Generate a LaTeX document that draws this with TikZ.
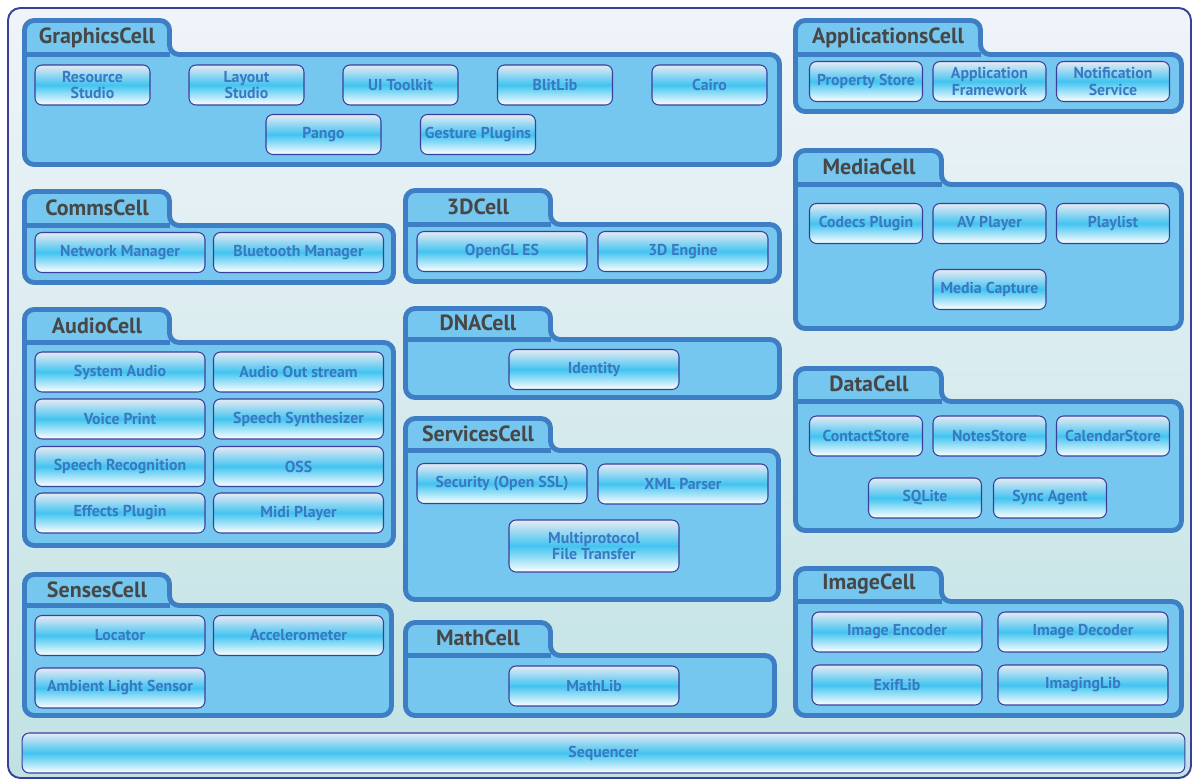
\documentclass[tikz,border=0pt]{standalone}
\usepackage{fontspec}
\setmainfont{PT Sans}
\usepackage{tikz}

\definecolor{frameline}{HTML}{3C3F9A}
\definecolor{frametop}{HTML}{EFF4F9}
\definecolor{framebot}{HTML}{C0E2E3}
\definecolor{cellline}{HTML}{3D7EC4}
\definecolor{cellfill}{HTML}{75C7EF}
\definecolor{compline}{HTML}{3B3F9C}
\definecolor{comptop}{HTML}{E6EAF4}
\definecolor{compmid}{HTML}{42C4F0}
\definecolor{comptext}{HTML}{3A78C2}
\definecolor{titletext}{HTML}{474747}

\begin{document}
\begin{tikzpicture}[
		x=0.02cm, y=-0.02cm,
		comp/.style={rectangle, rounded corners=4pt, draw=compline, line width=0.6pt,
			top color=comptop, bottom color=white, middle color=compmid,
			minimum height=0.8cm, inner sep=0pt, align=center, text=comptext,
			font=\bfseries\fontsize{9}{9.5}\selectfont},
		gbox/.style={comp, minimum width=2.3cm},
		sbox/.style={comp, minimum width=2.26cm},
		wbox/.style={comp, minimum width=3.4cm},
		cell/.style={draw=cellline, fill=cellfill, line width=2.8pt, rounded corners=5.5pt},
		tabline/.style={draw=cellline, line width=2.8pt},
		celltitle/.style={inner sep=0pt, text=titletext, font=\bfseries\fontsize{12.5}{13}\selectfont}
	]
  \useasboundingbox (0,0) rectangle (1194,781);
  \draw[draw=frameline, line width=1.1pt, rounded corners=7pt, top color=frametop, bottom color=framebot]
    (8,8) rectangle (1191,778);

  % cells
  \draw[cell] (24.5,110) |- (169.5,20.5) |- (779.5,54.5) |- (24.5,164.5) -- cycle;
  \draw[tabline] (24.5,54.5) -- (169.5,54.5);
  \draw[cell] (795.5,80) |- (980.5,20.5) |- (1181.5,54.5) |- (795.5,111.5) -- cycle;
  \draw[tabline] (795.5,54.5) -- (980.5,54.5);
  \draw[cell] (795.5,250) |- (941.5,150.5) |- (1181.5,184.5) |- (795.5,328.5) -- cycle;
  \draw[tabline] (795.5,184.5) -- (941.5,184.5);
  \draw[cell] (24.5,250) |- (169.5,191.5) |- (393.5,225.5) |- (24.5,282.5) -- cycle;
  \draw[tabline] (24.5,225.5) -- (169.5,225.5);
  \draw[cell] (24.5,440) |- (169.5,309.5) |- (393.5,342.5) |- (24.5,545.5) -- cycle;
  \draw[tabline] (24.5,342.5) -- (169.5,342.5);
  \draw[cell] (24.5,660) |- (169.5,574.5) |- (391.5,605.5) |- (24.5,715.5) -- cycle;
  \draw[tabline] (24.5,605.5) -- (169.5,605.5);
  \draw[cell] (405.5,250) |- (550.5,190.5) |- (779.5,224.5) |- (405.5,281.5) -- cycle;
  \draw[tabline] (405.5,224.5) -- (550.5,224.5);
  \draw[cell] (405.5,370) |- (550.5,308.5) |- (779.5,339.5) |- (405.5,397.5) -- cycle;
  \draw[tabline] (405.5,339.5) -- (550.5,339.5);
  \draw[cell] (405.5,520) |- (550.5,418.5) |- (778.5,450.5) |- (405.5,599.5) -- cycle;
  \draw[tabline] (405.5,450.5) -- (550.5,450.5);
  \draw[cell] (405.5,685) |- (550.5,622.5) |- (774.5,655.5) |- (405.5,715.5) -- cycle;
  \draw[tabline] (405.5,655.5) -- (550.5,655.5);
  \draw[cell] (795.5,465) |- (941.5,368.5) |- (1181.5,401.5) |- (795.5,530.5) -- cycle;
  \draw[tabline] (795.5,401.5) -- (941.5,401.5);
  \draw[cell] (795.5,660) |- (941.5,568.5) |- (1181.5,601.5) |- (795.5,715.5) -- cycle;
  \draw[tabline] (795.5,601.5) -- (941.5,601.5);

  % titles
  \node (graphics) [celltitle] at (97,38) {GraphicsCell};
  \node (apps) [celltitle] at (888,38) {ApplicationsCell};
  \node (media) [celltitle] at (869,167) {MediaCell};
  \node (comms) [celltitle] at (97,208) {CommsCell};
  \node (audio) [celltitle] at (97,326) {AudioCell};
  \node (senses) [celltitle] at (97,590) {SensesCell};
  \node (threed) [celltitle] at (478,207) {3DCell};
  \node (dna) [celltitle] at (478,323) {DNACell};
  \node (services) [celltitle] at (478,434) {ServicesCell};
  \node (math) [celltitle] at (478,638) {MathCell};
  \node (data) [celltitle] at (869,384) {DataCell};
  \node (image) [celltitle] at (869,584) {ImageCell};

  % GraphicsCell
  \node (res_studio) [gbox] at (92.5,85) {Resource\\Studio};
  \node (lay_studio) [gbox] at (246.5,85) {Layout\\Studio};
  \node (ui_toolkit) [gbox] at (400.5,85) {UI Toolkit};
  \node (blitlib) [gbox] at (555,85) {BlitLib};
  \node (cairo) [gbox] at (709.5,85) {Cairo};
  \node (pango) [gbox] at (323.5,134.5) {Pango};
  \node (gesture) [gbox] at (478,134.5) {Gesture Plugins};

  % ApplicationsCell
  \node (prop_store) [sbox] at (866,81.5) {Property Store};
  \node (app_fw) [sbox] at (989.5,81.5) {Application\\Framework};
  \node (notify) [sbox] at (1113,81.5) {Notification\\Service};

  % MediaCell
  \node (codecs) [sbox] at (866,223.5) {Codecs Plugin};
  \node (av_player) [sbox] at (989.5,223.5) {AV Player};
  \node (playlist) [sbox] at (1113,223.5) {Playlist};
  \node (capture) [sbox] at (989.5,289.5) {Media Capture};

  % CommsCell
  \node (net_mgr) [wbox] at (120,252.5) {Network Manager};
  \node (bt_mgr) [wbox] at (298.5,252.5) {Bluetooth Manager};

  % AudioCell
  \node (sys_audio) [wbox] at (120,372) {System Audio};
  \node (audio_out) [wbox] at (298.5,372) {Audio Out stream};
  \node (voice) [wbox] at (120,419) {Voice Print};
  \node (synth) [wbox] at (298.5,419) {Speech Synthesizer};
  \node (recog) [wbox] at (120,466.5) {Speech Recognition};
  \node (oss) [wbox] at (298.5,466.5) {OSS};
  \node (effects) [wbox] at (120,513) {Effects Plugin};
  \node (midi) [wbox] at (298.5,513) {Midi Player};

  % SensesCell
  \node (locator) [wbox] at (120,635.5) {Locator};
  \node (accel) [wbox] at (298.5,635.5) {Accelerometer};
  \node (ambient) [wbox] at (120,688) {Ambient Light Sensor};

  % 3DCell
  \node (opengl) [wbox] at (502,251.5) {OpenGL ES};
  \node (engine) [wbox] at (683,251.5) {3D Engine};

  % DNACell
  \node (identity) [wbox] at (594,369.5) {Identity};

  % ServicesCell
  \node (security) [wbox] at (502,483.5) {Security (Open SSL)};
  \node (xml) [wbox] at (683,484) {XML Parser};
  \node (mft) [wbox, minimum height=1.04cm] at (594,546) {Multiprotocol\\File Transfer};

  % MathCell
  \node (mathlib) [wbox] at (594,686) {MathLib};

  % DataCell
  \node (contacts) [sbox] at (866,436) {ContactStore};
  \node (notes) [sbox] at (989.5,436) {NotesStore};
  \node (calendar) [sbox] at (1113,436) {CalendarStore};
  \node (sqlite) [sbox] at (925,498) {SQLite};
  \node (sync) [sbox] at (1050,498) {Sync Agent};

  % ImageCell
  \node (encoder) [wbox] at (897,632) {Image Encoder};
  \node (decoder) [wbox] at (1083,632) {Image Decoder};
  \node (exiflib) [wbox] at (897,685) {ExifLib};
  \node (imaging) [wbox] at (1083,685) {ImagingLib};

  \node (sequencer) [comp, minimum width=23.26cm] at (603.5,753) {Sequencer};
\end{tikzpicture}
\end{document}
